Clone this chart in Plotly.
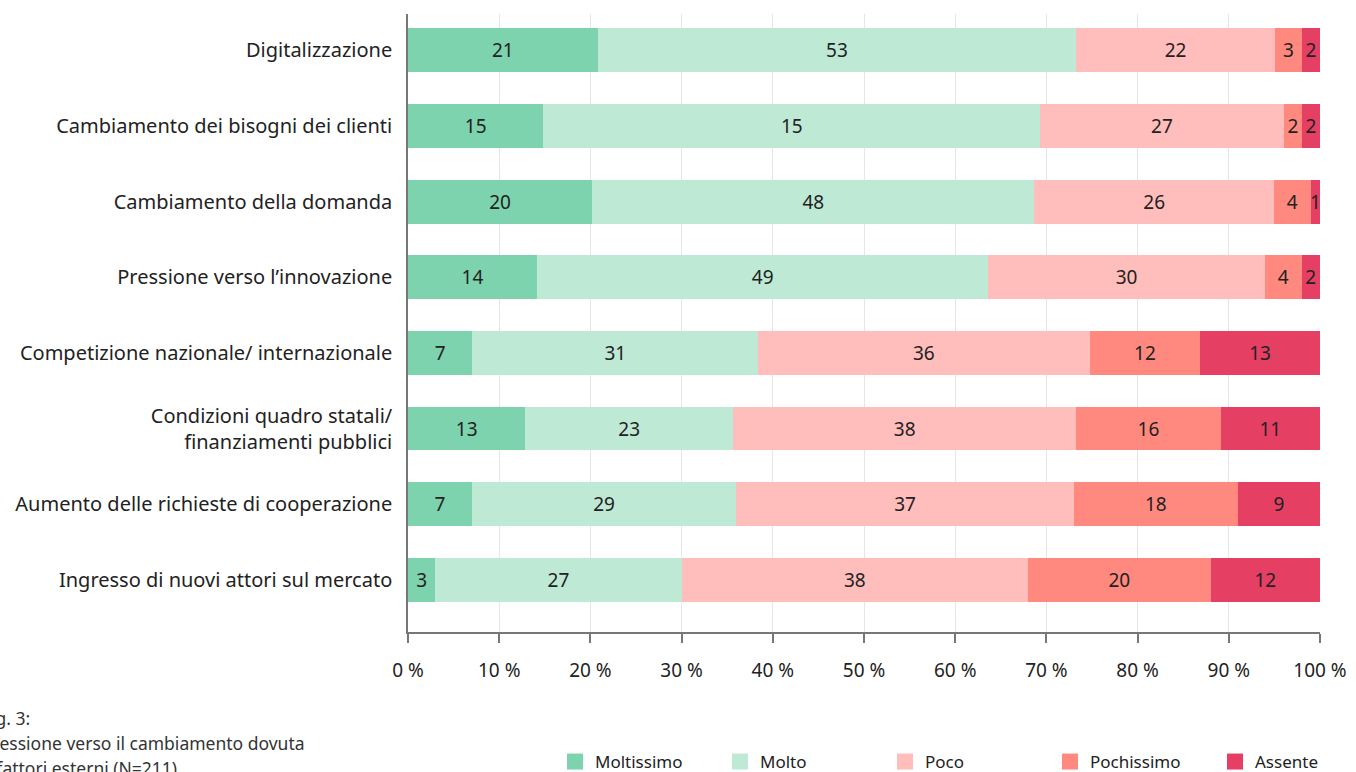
import plotly.graph_objects as go

categories = [
    "Digitalizzazione",
    "Cambiamento dei bisogni dei clienti",
    "Cambiamento della domanda",
    "Pressione verso l’innovazione",
    "Competizione nazionale/ internazionale",
    "Condizioni quadro statali/<br>finanziamenti pubblici",
    "Aumento delle richieste di cooperazione",
    "Ingresso di nuovi attori sul mercato",
]
series_names = ["Moltissimo", "Molto", "Poco", "Pochissimo", "Assente"]
moltissimo = [21, 15, 20, 14, 7, 13, 7, 3]
molto = [53, 55, 48, 49, 31, 23, 29, 27]
molto_printed = ["53", "15", "48", "49", "31", "23", "29", "27"]  # label as printed in the source
poco = [22, 27, 26, 30, 36, 38, 37, 38]
pochissimo = [3, 2, 4, 4, 12, 16, 18, 20]
assente = [2, 2, 1, 2, 13, 11, 9, 12]
tick_values = [0, 10, 20, 30, 40, 50, 60, 70, 80, 90, 100]
tick_labels = [f"{v} %" for v in tick_values]
footnote = ["Fig. 3:", "Pressione verso il cambiamento dovuta", "a fattori esterni (N=211)"]

colors = ["#7dd3ad", "#bee9d5", "#ffbdbb", "#ff897e", "#e53f64"]
values = [moltissimo, molto, poco, pochissimo, assente]
texts = [
    [str(v) for v in moltissimo],
    molto_printed,
    [str(v) for v in poco],
    [str(v) for v in pochissimo],
    [str(v) for v in assente],
]

FONT = "Noto Sans"
W, H = 1356, 772
PL, PR, PT, PB = 408, 1320, 14, 632  # plot area in pixels
L, R, T, B = PL, W - PR, PT, H - PB
PW, PH = PR - PL, PB - PT


def px_x(p):  # px -> paper x
    return (p - PL) / PW


def px_y(p):  # px -> paper y
    return (PB - p) / PH


fig = go.Figure()
for name, vals, txt, col in zip(series_names, values, texts, colors):
    fig.add_trace(go.Bar(
        y=categories, x=vals, name=name, orientation="h",
        marker=dict(color=col, line=dict(width=0)),
        text=txt, textposition="inside", insidetextanchor="middle",
        textfont=dict(family=FONT, size=19, color="#222222"),
        showlegend=False, hoverinfo="x+y+name",
    ))
# legend entries with larger square swatches
for name, col in zip(series_names, colors):
    fig.add_trace(go.Scatter(
        x=[None], y=[None], mode="markers", name=name,
        marker=dict(symbol="square", size=16, color=col),
        showlegend=True,
    ))

for i, line in enumerate(footnote):
    fig.add_annotation(
        x=px_x(-20), y=px_y(718 + i * 25), xref="paper", yref="paper",
        xanchor="left", yanchor="middle", text=line, showarrow=False,
        font=dict(family=FONT, size=17.5, color="#333333"),
    )

fig.update_layout(
    width=W, height=H,
    margin=dict(l=L, r=R, t=T, b=B, autoexpand=False),
    barmode="stack", barnorm="percent", bargap=0.42,
    plot_bgcolor="white", paper_bgcolor="white",
    font=dict(family=FONT, size=20, color="#222222"),
    uniformtext=dict(minsize=19, mode="show"),
    legend=dict(
        orientation="h", x=px_x(555), xanchor="left", y=px_y(762), yanchor="middle",
        font=dict(family=FONT, size=17, color="#222222"),
        entrywidth=120, itemsizing="trace", traceorder="normal",
    ),
    xaxis=dict(
        range=[0, 100], tickvals=tick_values, ticktext=tick_labels,
        showgrid=True, gridcolor="#e6e6e6", gridwidth=1,
        showline=True, linecolor="#777777", linewidth=1.5,
        ticks="outside", ticklen=9, tickcolor="#777777", tickwidth=1.5,
        ticklabelstandoff=11,
        tickfont=dict(family=FONT, size=19, color="#222222"),
        zeroline=False, fixedrange=True,
    ),
    yaxis=dict(
        categoryorder="array", categoryarray=categories,
        range=[7.69, -0.48],
        showline=True, linecolor="#777777", linewidth=1.5,
        ticks="", ticklabelstandoff=10,
        tickfont=dict(family=FONT, size=20, color="#222222"),
        showgrid=False, fixedrange=True,
    ),
)

fig.write_html(
    "out.html",
    config={"displayModeBar": False},
    post_script="document.body.style.margin='0';document.body.style.overflow='hidden';",
)
